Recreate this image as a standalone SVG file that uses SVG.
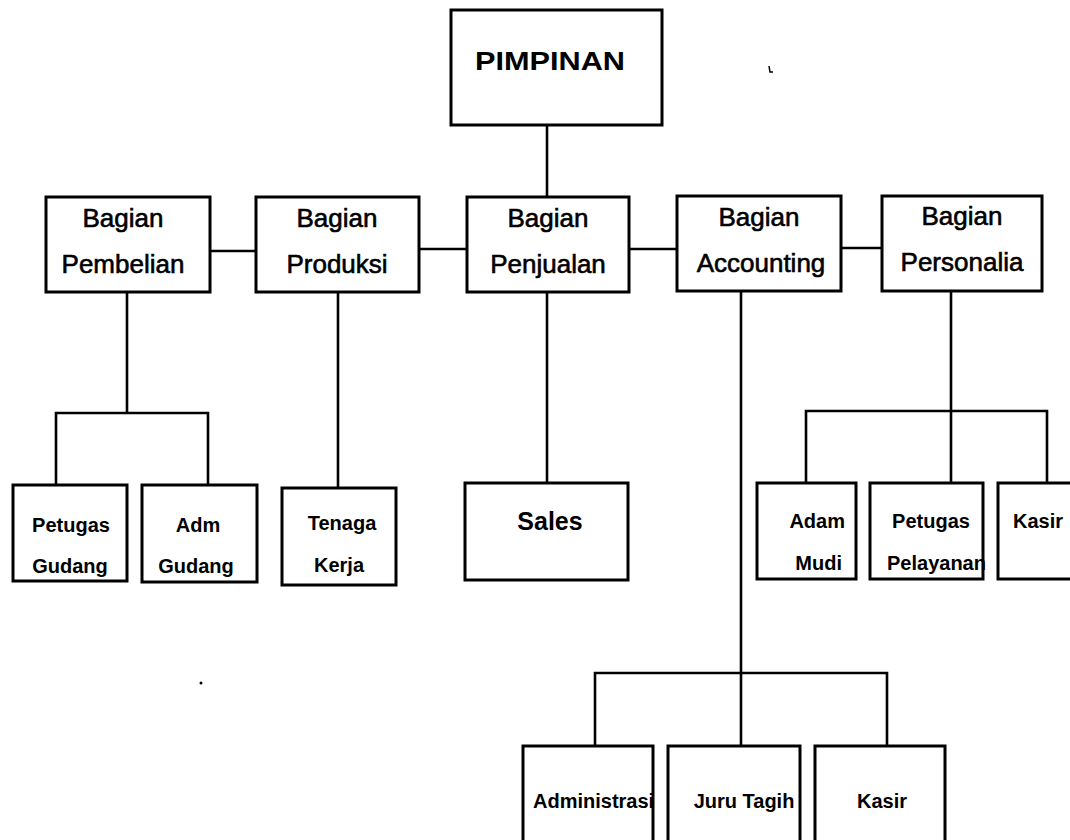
<svg xmlns="http://www.w3.org/2000/svg" width="1070" height="840" viewBox="0 0 1070 840">
<style>
.box{fill:#fff;stroke:#000;stroke-width:3}
.ln{fill:none;stroke:#000;stroke-width:2.6}
.t1{font-family:"Liberation Sans",Arial,sans-serif;font-size:26px;fill:#000;stroke:#000;stroke-width:0.6;text-anchor:middle}
.t2{font-family:"Liberation Sans",Arial,sans-serif;font-size:20px;font-weight:bold;fill:#000;text-anchor:middle}
.tb{font-family:"Liberation Sans",Arial,sans-serif;font-weight:bold;fill:#000;text-anchor:middle}
</style>
<rect width="1070" height="840" fill="#fff"/>
<g id="connectors">
<path class="ln" d="M547 125V197"/>
<path class="ln" d="M210 251H256M419 249H467M629 249H677M841 248H882"/>
<path class="ln" d="M127 292V413M56 485V413H208V485"/>
<path class="ln" d="M338 292V488"/>
<path class="ln" d="M547 292V483"/>
<path class="ln" d="M741 291V746M595 746V673H887V746"/>
<path class="ln" d="M951 291V483M806 483V411H1047V483"/>
</g>
<g id="pimpinan"><rect class="box" x="451" y="10" width="211" height="115"/><text class="tb" x="550" y="70" font-size="26" textLength="150" lengthAdjust="spacingAndGlyphs">PIMPINAN</text></g>
<g id="pembelian"><rect class="box" x="46" y="197" width="164" height="95"/><text class="t1" x="123" y="227">Bagian</text><text class="t1" x="123" y="273">Pembelian</text></g>
<g id="produksi"><rect class="box" x="256" y="197" width="163" height="95"/><text class="t1" x="337" y="227">Bagian</text><text class="t1" x="337" y="273">Produksi</text></g>
<g id="penjualan"><rect class="box" x="467" y="197" width="162" height="95"/><text class="t1" x="548" y="227">Bagian</text><text class="t1" x="548" y="273">Penjualan</text></g>
<g id="accounting"><rect class="box" x="677" y="196" width="164" height="95"/><text class="t1" x="759" y="226">Bagian</text><text class="t1" x="761" y="272">Accounting</text></g>
<g id="personalia"><rect class="box" x="882" y="196" width="160" height="95"/><text class="t1" x="962" y="225">Bagian</text><text class="t1" x="962" y="271">Personalia</text></g>
<g id="petugas-gudang"><rect class="box" x="13" y="485" width="114" height="96"/><text class="t2" x="71" y="532">Petugas</text><text class="t2" x="70" y="573">Gudang</text></g>
<g id="adm-gudang"><rect class="box" x="142" y="485" width="115" height="97"/><text class="t2" x="198" y="532">Adm</text><text class="t2" x="196" y="573">Gudang</text></g>
<g id="tenaga-kerja"><rect class="box" x="282" y="488" width="114" height="97"/><text class="t2" x="342" y="530">Tenaga</text><text class="t2" x="339" y="572">Kerja</text></g>
<g id="sales"><rect class="box" x="465" y="483" width="163" height="97"/><text class="tb" x="550" y="530" font-size="25">Sales</text></g>
<g id="adam-mudi"><rect class="box" x="757" y="483" width="99" height="96"/><text class="t2" x="845" y="528" style="text-anchor:end">Adam</text><text class="t2" x="842" y="570" style="text-anchor:end">Mudi</text></g>
<g id="petugas-pelayanan"><text class="t2" x="931" y="528">Petugas</text><text class="t2" x="887" y="570" style="text-anchor:start">Pelayanan</text><rect x="870" y="483" width="113" height="96" fill="none" stroke="#000" stroke-width="3"/></g>
<g id="kasir-personalia"><rect class="box" x="998" y="483" width="90" height="96"/><text class="t2" x="1013" y="528" style="text-anchor:start">Kasir</text></g>
<g id="administrasi"><text class="t2" x="533" y="808" style="text-anchor:start">Administrasi</text><rect x="523" y="746" width="130" height="110" fill="none" stroke="#000" stroke-width="3"/></g>
<g id="juru-tagih"><rect class="box" x="668" y="746" width="132" height="110"/><text class="t2" x="744" y="808">Juru Tagih</text></g>
<g id="kasir-accounting"><rect class="box" x="815" y="746" width="130" height="110"/><text class="t2" x="857" y="808" style="text-anchor:start">Kasir</text></g>
<circle cx="201" cy="683" r="1.5" fill="#000"/>
<path d="M769 66l1 6h3" fill="none" stroke="#000" stroke-width="1.5"/>
</svg>
